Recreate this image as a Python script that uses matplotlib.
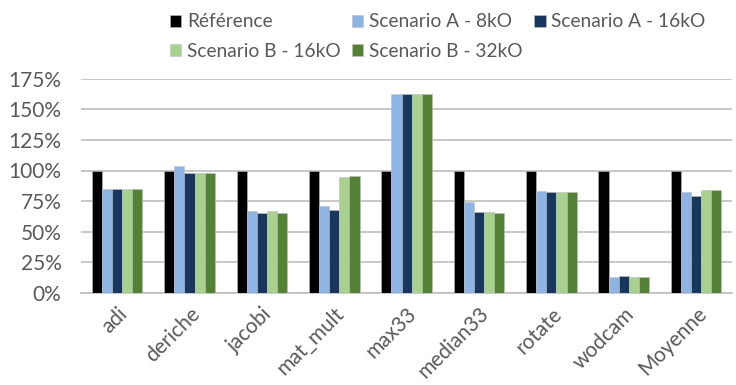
import matplotlib.pyplot as plt
import numpy as np
from matplotlib.ticker import FuncFormatter

plt.rcParams["font.family"] = ["Lato", "DejaVu Sans"]

categories = ["adi", "deriche", "jacobi", "mat_mult", "max33",
              "median33", "rotate", "wodcam", "Moyenne"]
series_names = ["Référence", "Scenario A - 8kO", "Scenario A - 16kO",
                "Scenario B - 16kO", "Scenario B - 32kO"]
reference = [100, 100, 100, 100, 100, 100, 100, 100, 100]
scen_a_8k = [85, 103.5, 66.5, 71, 162.5, 74, 83, 12.5, 82]
scen_a_16k = [85, 98, 65.5, 67.5, 162.5, 66, 82.5, 13.3, 79.5]
scen_b_16k = [85, 98, 66.5, 95, 162.5, 66, 82.5, 12.5, 83.7]
scen_b_32k = [85, 98, 65.5, 95.5, 162.5, 65.5, 82.5, 12.5, 83.7]
colors = ["#000000", "#8EB4E3", "#17375E", "#A9D18E", "#548235"]
text_col = "#595959"

values = [reference, scen_a_8k, scen_a_16k, scen_b_16k, scen_b_32k]

fig = plt.figure(figsize=(7.36, 3.85), dpi=100)
ax = fig.add_axes([0.110, 0.240, 0.885, 0.555])

x = np.arange(len(categories))
width = 0.14
handles = []
for i, (vals, name, c) in enumerate(zip(values, series_names, colors)):
    off = (i - 2) * width
    b = ax.bar(x + off, np.array(vals) / 100, width, color=c, label=name,
               edgecolor="#BFBFBF", linewidth=0.4, zorder=3)
    handles.append(b)

ax.set_ylim(0, 1.75)
ax.set_xlim(-0.5, len(categories) - 0.5)
ax.set_yticks(np.arange(0, 1.76, 0.25))
ax.yaxis.set_major_formatter(FuncFormatter(lambda v, _: f"{v*100:.0f}%"))
ax.grid(axis="y", color="#BFBFBF", linewidth=1.2, zorder=0)
for s in ["top", "right", "left"]:
    ax.spines[s].set_visible(False)
ax.spines["bottom"].set_color("#BFBFBF")
ax.spines["bottom"].set_linewidth(1.2)
ax.tick_params(axis="both", length=0, labelsize=15, colors=text_col)
ax.tick_params(axis="y", pad=14)
ax.tick_params(axis="x", pad=8)
ax.set_xticks(x)
ax.set_xticklabels(categories, rotation=45, ha="right", rotation_mode="anchor")

order = [0, 3, 1, 4, 2]
fig.legend([handles[i] for i in order], [series_names[i] for i in order],
           ncol=3, loc="upper left", bbox_to_anchor=(0.207, 1.01),
           frameon=False, fontsize=13.8, handlelength=0.6, handleheight=0.6,
           handletextpad=0.3, columnspacing=0.6, labelspacing=0.65,
           labelcolor=text_col)

fig.savefig("out.png", dpi=100)
